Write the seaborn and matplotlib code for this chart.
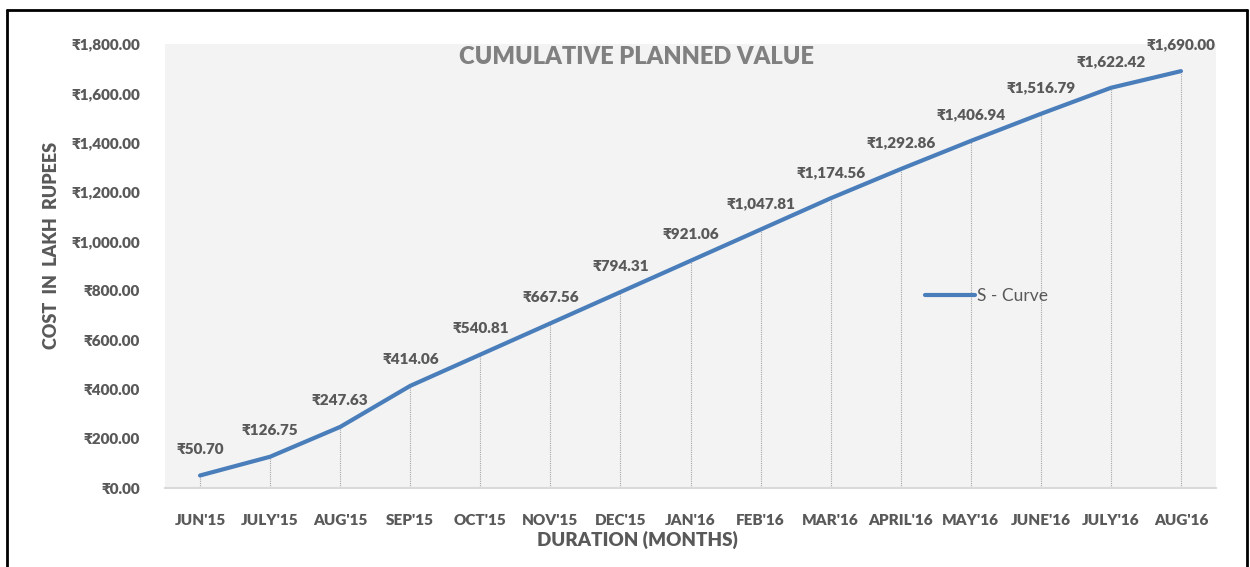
import pandas as pd
import matplotlib.pyplot as plt
import seaborn as sns
from matplotlib.lines import Line2D

# Planned value S-curve data (lakh rupees)
months = ["JUN'15", "JULY'15", "AUG'15", "SEP'15", "OCT'15", "NOV'15", "DEC'15",
          "JAN'16", "FEB'16", "MAR'16", "APRIL'16", "MAY'16", "JUNE'16", "JULY'16", "AUG'16"]
planned_value = [50.70, 126.75, 247.63, 414.06, 540.81, 667.56, 794.31,
                 921.06, 1047.81, 1174.56, 1292.86, 1406.94, 1516.79, 1622.42, 1690.00]
y_ticks = [0, 200, 400, 600, 800, 1000, 1200, 1400, 1600, 1800]

sns.set_style('white')
plt.rcParams['font.family'] = ['Lato', 'DejaVu Sans']

grey = '#595959'
blue = '#4a7ebb'

df = pd.DataFrame({'Month': months, 'Value': planned_value})
df['pos'] = range(len(df))

fig = plt.figure(figsize=(12.5, 5.67), dpi=100)
ax = fig.add_axes([165 / 1250, 1 - 488 / 567, 1051 / 1250, 444 / 567])
ax.set_facecolor('#f3f3f3')

# drop lines
ax.vlines(df['pos'], 0, df['Value'], colors='#a6a6a6', linestyles=(0, (1, 1)),
          linewidth=0.8, zorder=1)

sns.lineplot(data=df, x='pos', y='Value', ax=ax, color=blue, linewidth=3,
             zorder=3, legend=False)

for x, v in zip(df['pos'], df['Value']):
    ax.annotate(f'₹{v:,.2f}', (x, v), xytext=(0, 14), textcoords='offset points',
                ha='center', va='bottom', fontsize=11, fontweight='heavy', color=grey)

ax.set_xlim(-0.5, len(months) - 0.5)
ax.set_ylim(0, 1800)
ax.set_xticks(df['pos'])
ax.set_xticklabels(months)
ax.set_yticks(y_ticks)
ax.set_yticklabels([f'₹{t:,.2f}' for t in y_ticks])
ax.tick_params(axis='x', length=0, pad=19, labelsize=11, labelcolor=grey)
ax.tick_params(axis='y', length=0, pad=18, labelsize=11, labelcolor=grey)
for lbl in ax.get_xticklabels() + ax.get_yticklabels():
    lbl.set_fontweight('heavy')
ax.set_xlabel('')
ax.set_ylabel('')

for side in ['top', 'right', 'left']:
    ax.spines[side].set_visible(False)
ax.spines['bottom'].set_color('#d9d9d9')
ax.spines['bottom'].set_linewidth(1.5)

ax.text(0.449, 0.97, 'CUMULATIVE PLANNED VALUE', transform=ax.transAxes,
        ha='center', va='center', fontsize=17, fontweight='heavy', color='#808080')

handle = Line2D([], [], color=blue, linewidth=3)
leg = ax.legend([handle], ['S - Curve'], loc='center left',
                bbox_to_anchor=(0.708, 0.432), frameon=False, fontsize=12.5,
                handlelength=2.9, handletextpad=0.1)
for t in leg.get_texts():
    t.set_color(grey)

fig.text(52 / 1250, 1 - 245 / 567, 'COST  IN  LAKH  RUPEES', rotation=90,
         ha='center', va='center', fontsize=13, fontweight='heavy', color=grey)
fig.text(637 / 1250, 1 - 540 / 567, 'DURATION (MONTHS)', ha='center', va='center',
         fontsize=13.5, fontweight='heavy', color=grey)

# outer chart frame
top = 1 - 10 / 567
fig.add_artist(Line2D([7 / 1250, 7 / 1250], [-0.1, top], color='black', linewidth=2,
                      transform=fig.transFigure))
fig.add_artist(Line2D([7 / 1250, 1247 / 1250], [top, top], color='black', linewidth=2,
                      transform=fig.transFigure))
fig.add_artist(Line2D([1247 / 1250, 1247 / 1250], [-0.1, top], color='black', linewidth=2,
                      transform=fig.transFigure))

fig.savefig('out.png', dpi=100)
